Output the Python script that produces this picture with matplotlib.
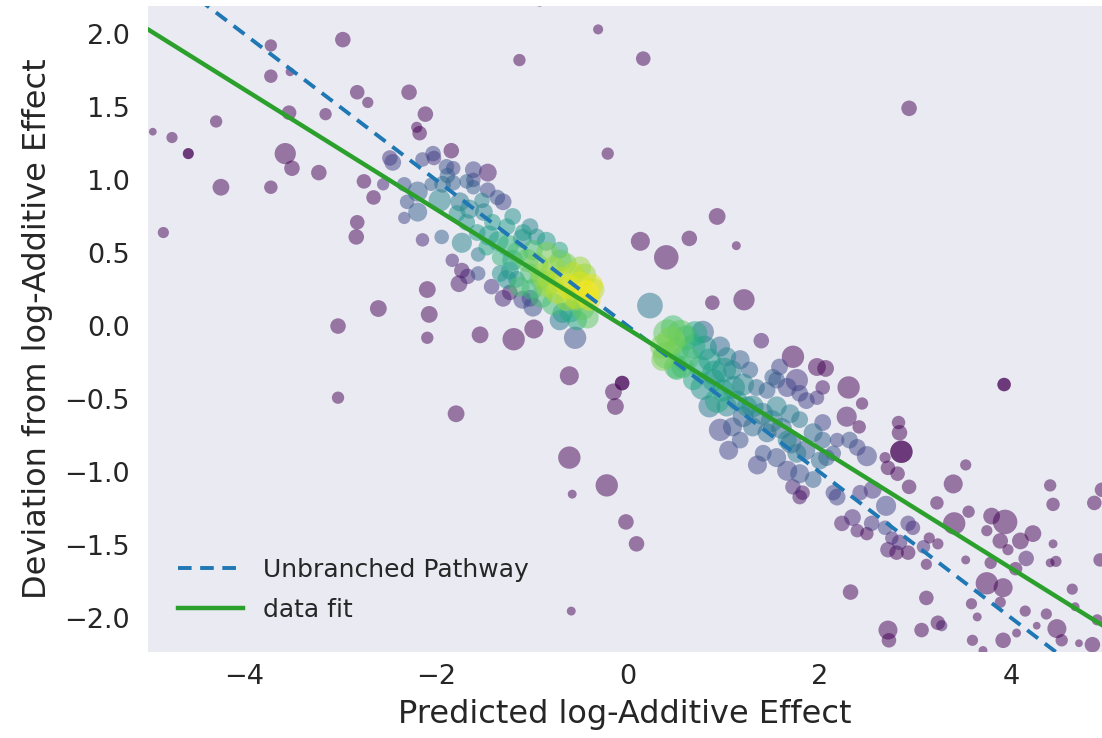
import numpy as np
import matplotlib
matplotlib.use("Agg")
import matplotlib.pyplot as plt

# sparse outliers (mostly low density -> purple)
out_x = [-4.95, -4.75, -4.58, -4.58, -4.29, -4.24, -4.84, -3.72, -3.52, -3.72, -2.97, -2.82, -2.71,
         -3.53, -3.15, -3.57, -3.50, -3.22, -3.72, -2.75, -2.65, -2.55, -2.82, -2.83, -2.28, -2.11,
         -2.20, -2.17, -1.84, -0.92, -0.31, -1.13, -0.21, -2.60, -3.02, -2.09, -2.07, -2.09, -3.02,
         -1.54, -1.19, -0.98, -0.61, -0.15, -0.06, -0.06, -0.13, -1.79, -0.61, -0.22, -0.58, -0.02,
         0.09, -0.59, -0.55,
         0.16, 2.93, 0.13, 0.40, 0.64, 0.93, 1.13, 0.23, 0.88, 1.21,
         1.39, 1.72, 1.97, 2.06, 2.03, 2.30, 2.44, 2.28, 2.41, 2.82, 2.83, 2.85, 2.85, 2.68, 2.71,
         2.81, 2.93, 3.92, 3.92]
out_y = [1.33, 1.29, 1.18, 1.18, 1.40, 0.95, 0.64, 1.92, 1.74, 1.71, 1.96, 1.60, 1.53,
         1.46, 1.45, 1.18, 1.08, 1.05, 0.95, 0.99, 0.88, 0.97, 0.71, 0.61, 1.60, 1.45,
         1.36, 1.32, 1.20, 2.22, 2.03, 1.82, 1.18, 0.12, 0.00, 0.25, 0.08, -0.08, -0.49,
         -0.06, -0.09, -0.02, -0.34, -0.45, -0.39, -0.39, -0.55, -0.60, -0.90, -1.09, -1.15, -1.34,
         -1.49, -1.95, -0.08,
         1.83, 1.49, 0.58, 0.47, 0.60, 0.75, 0.55, 0.14, 0.16, 0.18,
         -0.10, -0.21, -0.28, -0.29, -0.42, -0.42, -0.53, -0.62, -0.69, -0.66, -0.73, -0.86, -0.86,
         -0.90, -0.97, -1.01, -1.10, -0.40, -0.40]
out_s = [25, 52, 50, 50, 63, 117, 52, 63, 33, 75, 100, 88, 52,
         88, 63, 187, 100, 100, 75, 88, 88, 63, 88, 100, 100, 100,
         52, 88, 100, 42, 42, 63, 63, 117, 100, 117, 117, 63, 63,
         117, 207, 150, 150, 117, 88, 88, 117, 117, 207, 207, 33, 100,
         100, 33, 207,
         88, 100, 150, 250, 100, 117, 33, 274, 88, 187,
         100, 207, 133, 117, 88, 207, 63, 168, 75, 75, 100, 207, 207, 52, 88,
         88, 88, 75, 75]
out_c = [0, 0, 0, 0, 0, 0, 0, 0, 0, 0, 0, 0, 0,
         0, 0, 0, 0, 0, 0, 0, 0, 0.1, 0, 0, 0, 0,
         0, 0, 0, 0, 0, 0, 0, 0, 0, 0, 0, 0, 0,
         0, 0, 0, 0, 0, 0, 0, 0, 0, 0, 0, 0, 0,
         0, 0, 0.25,
         0, 0, 0, 0, 0, 0, 0, 0.4, 0, 0,
         0.05, 0, 0, 0, 0.05, 0, 0, 0.03, 0, 0, 0, 0, 0, 0, 0,
         0, 0, 0, 0]

# lower right tail
tail_x = [2.69, 2.49, 2.39, 2.31, 2.18, 2.03, 2.18, 2.34, 2.23, 2.39, 2.49, 2.54, 2.68, 2.75,
          2.83, 2.92, 2.97, 2.71, 2.80, 2.92, 3.08, 3.14, 3.23, 3.11, 3.22, 3.39, 3.52, 3.55,
          3.40, 3.74, 3.79, 3.93, 3.88, 3.96, 4.09, 4.15, 4.22, 4.04, 3.52, 3.78, 3.74, 3.91,
          3.88, 3.58, 3.64, 4.14, 4.26, 4.36, 4.47, 4.52, 4.63, 4.66, 4.40, 4.43, 4.43, 4.40,
          4.46, 4.70, 4.84, 4.86, 4.94, 2.32, 3.11, 2.71, 2.72, 3.06, 3.23, 3.27, 3.59, 3.91,
          4.05, 3.70, 4.89, 4.92]
tail_y = [-1.23, -0.89, -0.83, -0.78, -0.78, -0.66, -1.17, -1.31, -1.35, -1.40, -1.42, -1.35, -1.38, -1.45,
          -1.48, -1.35, -1.38, -1.53, -1.55, -1.55, -1.51, -1.45, -1.49, -1.63, -1.21, -1.08, -0.95, -1.27,
          -1.35, -1.40, -1.30, -1.34, -1.47, -1.53, -1.47, -1.59, -1.42, -1.66, -1.60, -1.62, -1.76, -1.79,
          -1.89, -1.90, -1.99, -1.95, -2.05, -1.97, -2.07, -2.15, -1.80, -1.92, -1.09, -1.22, -1.49, -1.62,
          -1.61, -2.17, -2.18, -1.21, -1.12, -1.82, -1.86, -2.08, -2.15, -2.08, -2.03, -2.05, -2.15, -2.15,
          -2.10, -2.22, -2.01, -1.60]
tail_s = [168, 168, 117, 117, 88, 117, 117, 117, 100, 75, 75, 100, 88, 75,
          100, 100, 88, 100, 88, 88, 75, 52, 52, 52, 75, 150, 52, 63,
          207, 52, 117, 250, 100, 52, 117, 100, 117, 75, 33, 63, 207, 150,
          52, 52, 33, 52, 25, 52, 150, 63, 52, 33, 63, 75, 33, 33,
          52, 25, 100, 88, 88, 100, 88, 150, 88, 88, 88, 52, 52, 100,
          33, 33, 52, 75]
tail_c = [0.2, 0.2, 0.2, 0.25, 0.2, 0.2, 0.2, 0.1, 0.05, 0.05, 0, 0.15, 0.2, 0.1,
          0.1, 0.15, 0.1, 0.05, 0, 0, 0.1, 0, 0, 0, 0, 0, 0, 0,
          0, 0, 0, 0, 0, 0, 0, 0.05, 0, 0, 0, 0, 0, 0,
          0, 0, 0, 0, 0, 0, 0, 0, 0, 0, 0, 0, 0, 0,
          0, 0, 0, 0, 0, 0, 0, 0, 0, 0, 0, 0.05, 0, 0,
          0, 0, 0, 0]

# dense cluster left of zero
left_x = [-2.45, -2.48, -2.33, -2.30, -2.19, -2.19, -2.33, -2.14, -1.94, -2.03, -2.02, -2.14, -1.89,
          -1.82, -1.88, -1.96, -1.93, -1.82, -1.61, -1.46, -1.68, -1.61, -1.61, -1.46, -1.30, -1.36,
          -1.52, -1.78, -1.68, -1.73, -1.57, -1.56, -1.83, -1.73, -1.67, -1.76, -1.56, -1.42, -1.30,
          -1.23, -1.10, -0.99, -1.02, -1.47, -1.33, -1.23, -1.16, -1.41, -1.26, -1.20, -1.09, -1.02,
          -0.95, -0.99, -0.84, -0.78, -0.71, -0.64, -0.57, -0.50, -0.43, -0.40, -0.53, -0.64, -0.74,
          -0.84, -0.92, -1.02, -1.13, -0.68, -0.53, -0.42, -0.71, -1.33, -1.26, -0.50, -0.36, -2.05,
          -1.45, -1.35, -1.25, -1.15, -1.05, -0.95, -0.88, -0.80, -0.70, -0.62, -0.55, -0.47, -0.60,
          -0.78, -0.90, -1.00, -1.20, -1.10, -0.85, -0.70, -0.45, -0.38, -1.75, -1.65, -1.50]
left_y = [1.12, 1.15, 0.97, 0.85, 0.92, 0.78, 0.74, 0.59, 0.61, 1.18, 1.15, 1.14, 1.09,
          1.08, 1.03, 0.86, 0.97, 0.98, 1.07, 1.05, 0.99, 0.95, 1.00, 0.93, 0.85, 0.88,
          0.86, 0.77, 0.71, 0.57, 0.64, 0.49, 0.45, 0.38, 0.34, 0.29, 0.36, 0.27, 0.19,
          0.23, 0.18, 0.13, 0.19, 0.54, 0.47, 0.38, 0.32, 0.71, 0.68, 0.75, 0.64, 0.68,
          0.61, 0.52, 0.50, 0.40, 0.52, 0.43, 0.36, 0.29, 0.23, 0.18, 0.18, 0.18, 0.23,
          0.27, 0.32, 0.36, 0.27, 0.09, 0.04, 0.06, 0.04, 0.36, 0.32, 0.40, 0.25, 0.97,
          0.62, 0.58, 0.55, 0.50, 0.45, 0.42, 0.35, 0.30, 0.32, 0.27, 0.20, 0.12, 0.10,
          0.15, 0.20, 0.25, 0.45, 0.60, 0.58, 0.45, 0.35, 0.28, 0.85, 0.80, 0.78]
left_s = [117, 100, 88, 88, 168, 150, 63, 75, 88, 100, 88, 88, 100,
          88, 100, 207, 117, 100, 117, 133, 88, 88, 88, 100, 117, 100,
          100, 117, 117, 168, 117, 88, 75, 100, 100, 117, 88, 100, 117,
          100, 133, 150, 117, 117, 117, 133, 117, 117, 117, 117, 117, 117,
          117, 168, 207, 207, 117, 168, 207, 250, 250, 207, 207, 207, 207,
          207, 168, 168, 168, 168, 168, 207, 168, 117, 150, 207, 207, 75,
          170, 170, 200, 200, 220, 220, 250, 250, 250, 250, 250, 220, 200,
          200, 200, 180, 180, 150, 150, 200, 220, 220, 150, 150, 130]
left_c = [0.2, 0.15, 0.25, 0.25, 0.3, 0.3, 0.2, 0.1, 0.3, 0.2, 0.15, 0.2, 0.25,
          0.2, 0.3, 0.45, 0.35, 0.3, 0.2, 0.05, 0.3, 0.3, 0.2, 0.2, 0.2, 0.25,
          0.45, 0.5, 0.5, 0.45, 0.55, 0.4, 0.1, 0.05, 0.1, 0.05, 0.25, 0.15, 0.1,
          0.05, 0.2, 0.25, 0.2, 0.6, 0.65, 0.55, 0.5, 0.55, 0.55, 0.5, 0.55, 0.45,
          0.5, 0.7, 0.8, 0.85, 0.6, 0.8, 0.9, 0.95, 1.0, 0.95, 0.8, 0.85, 0.9,
          0.85, 0.75, 0.7, 0.7, 0.55, 0.6, 0.75, 0.4, 0.5, 0.5, 0.85, 0.9, 0.3,
          0.55, 0.6, 0.65, 0.7, 0.75, 0.8, 0.85, 0.85, 0.9, 0.95, 0.9, 0.75, 0.6,
          0.7, 0.7, 0.65, 0.6, 0.5, 0.55, 0.75, 0.85, 0.95, 0.4, 0.45, 0.45]

# dense cluster right of zero
right_x = [0.41, 0.47, 0.36, 0.51, 0.61, 0.78, 0.68, 0.57, 0.75, 0.85, 0.96, 1.03, 1.17, 1.27,
           1.09, 0.89, 0.68, 0.51, 0.99, 1.14, 1.24, 1.34, 1.45, 1.55, 1.66, 1.76, 1.79, 1.86,
           1.97, 1.55, 1.69, 1.79, 1.93, 2.03, 1.03, 0.96, 1.09, 1.17, 1.30, 1.45, 1.41, 1.55,
           1.66, 1.76, 1.66, 1.79, 1.93, 1.72, 1.82, 2.00, 2.14, 2.42, 2.55, 2.14, 0.36, 0.93,
           1.58, 1.51, 1.79, 2.07,
           0.45, 0.55, 0.40, 0.60, 0.70, 0.80, 0.90, 1.00, 0.78, 1.10, 1.20, 1.30, 1.40, 1.50,
           1.60, 1.70, 1.85, 1.20, 0.85, 1.05, 1.35, 0.50]
right_y = [-0.05, -0.01, -0.14, -0.16, -0.08, -0.04, -0.14, -0.28, -0.28, -0.23, -0.14, -0.21, -0.23, -0.30,
           -0.30, -0.37, -0.37, -0.30, -0.44, -0.51, -0.55, -0.42, -0.44, -0.37, -0.42, -0.37, -0.46, -0.51,
           -0.49, -0.55, -0.60, -0.64, -0.73, -0.78, -0.55, -0.71, -0.69, -0.78, -0.69, -0.73, -0.87, -0.90,
           -0.78, -0.87, -0.99, -1.01, -1.05, -1.10, -1.14, -0.92, -0.87, -1.14, -1.12, -1.14, -0.23, -0.51,
           -0.28, -0.35, -1.17, -0.90,
           -0.10, -0.05, -0.20, -0.22, -0.05, -0.15, -0.32, -0.30, -0.42, -0.42, -0.40, -0.55, -0.60, -0.65,
           -0.70, -0.80, -0.85, -0.62, -0.55, -0.85, -0.95, -0.28]
right_s = [324, 250, 250, 250, 250, 207, 250, 207, 207, 207, 168, 150, 150, 117,
           150, 207, 168, 168, 207, 168, 168, 117, 117, 117, 150, 207, 117, 117,
           88, 168, 150, 117, 150, 117, 168, 207, 150, 117, 150, 150, 117, 150,
           150, 150, 168, 150, 117, 100, 88, 133, 100, 100, 133, 100, 207, 250,
           117, 117, 88, 117,
           330, 300, 300, 300, 250, 250, 250, 250, 250, 220, 200, 200, 200, 200,
           180, 180, 160, 180, 200, 150, 150, 230]
right_c = [0.75, 0.7, 0.8, 0.7, 0.65, 0.3, 0.6, 0.7, 0.6, 0.55, 0.35, 0.45, 0.3, 0.3,
           0.45, 0.55, 0.6, 0.7, 0.55, 0.5, 0.5, 0.35, 0.3, 0.25, 0.2, 0.15, 0.2, 0.2,
           0.15, 0.45, 0.4, 0.4, 0.35, 0.3, 0.45, 0.2, 0.25, 0.25, 0.35, 0.35, 0.25, 0.25,
           0.45, 0.4, 0.2, 0.25, 0.3, 0.1, 0.05, 0.35, 0.25, 0.15, 0.15, 0.2, 0.8, 0.6,
           0.2, 0.3, 0.05, 0.3,
           0.8, 0.75, 0.75, 0.7, 0.6, 0.5, 0.55, 0.5, 0.5, 0.5, 0.45, 0.45, 0.4, 0.4,
           0.35, 0.3, 0.3, 0.3, 0.4, 0.2, 0.2, 0.7]

# lines
x_lim = (-5.0, 4.94)
y_lim = (-2.23, 2.19)
unbranched_slope = -0.5
fit_slope, fit_intercept = -0.41, -0.02

x = np.array(out_x + tail_x + left_x + right_x)
y = np.array(out_y + tail_y + left_y + right_y)
s = np.array(out_s + tail_s + left_s + right_s)
c = np.array(out_c + tail_c + left_c + right_c)
order = np.argsort(c, kind="stable")

fig = plt.figure(figsize=(11.02, 7.38), dpi=100)
ax = fig.add_axes([148 / 1102, 86 / 738, 954 / 1102, 646 / 738])
ax.set_facecolor("#EAEAF2")
for sp in ax.spines.values():
    sp.set_visible(False)

ax.scatter(x[order], y[order], s=s[order] * 1.25, c=c[order], cmap="viridis", vmin=0, vmax=1,
           alpha=0.5, linewidths=0)

xx = np.linspace(-5.5, 5.5, 50)
ax.plot(xx, unbranched_slope * xx, "--", color="#1f77b4", lw=2.8, dashes=(3.5, 2.2),
        label="Unbranched Pathway")
ax.plot(xx, fit_slope * xx + fit_intercept, color="#2ca02c", lw=3.2, label="data fit")

ax.set_xlim(x_lim)
ax.set_ylim(y_lim)
ax.set_xticks([-4, -2, 0, 2, 4])
ax.set_yticks([-2.0, -1.5, -1.0, -0.5, 0.0, 0.5, 1.0, 1.5, 2.0])
ax.set_yticklabels(["\u22122.0", "\u22121.5", "\u22121.0", "\u22120.5", "0.0", "0.5", "1.0", "1.5", "2.0"])
ax.set_xticklabels(["\u22124", "\u22122", "0", "2", "4"])
ax.tick_params(length=0, labelsize=19.5, colors="#262626")
ax.tick_params(axis="x", pad=9)
ax.tick_params(axis="y", pad=13)
ax.set_xlabel("Predicted log-Additive Effect", fontsize=23, color="#262626", labelpad=6)
ax.set_ylabel("Deviation from log-Additive Effect", fontsize=23, color="#262626", labelpad=8)

leg = ax.legend(loc="lower left", frameon=False, fontsize=18, handlelength=2.6,
                borderaxespad=0.8, labelspacing=0.65)
for t in leg.get_texts():
    t.set_color("#262626")

fig.savefig("out.png", dpi=100)
